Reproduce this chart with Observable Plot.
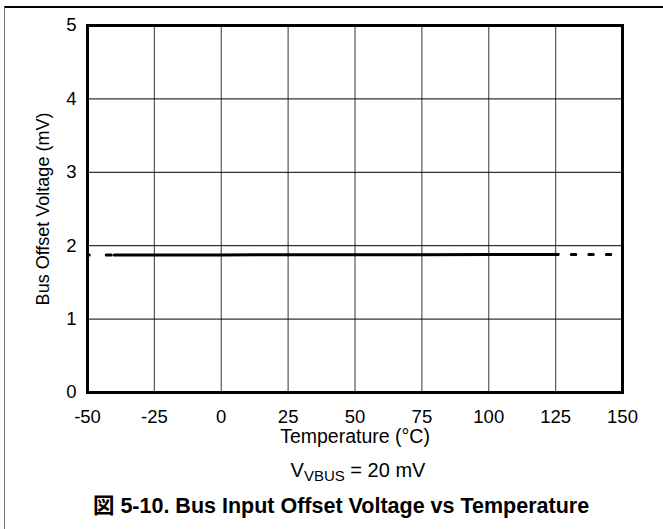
<!DOCTYPE html>
<html><head><meta charset="utf-8">
<script src="https://cdn.jsdelivr.net/npm/d3@7"></script>
<script src="https://cdn.jsdelivr.net/npm/@observablehq/plot@0.6"></script>
<style>
body{margin:0;background:#fff;font-family:"Liberation Sans",Arial,sans-serif;color:#000}
#page{position:relative;width:663px;height:529px;overflow:hidden;background:#fff}
#border{position:absolute;left:4px;top:6px;width:659px;height:523px;border-left:1.5px solid #777;border-top:2px solid #000;box-sizing:border-box}
#chart{position:absolute;left:0;top:0}
.txt{position:absolute;left:0;text-align:center;line-height:1;white-space:nowrap}
#sub{top:460px;width:716px;font-size:20px}
#sub sub{font-size:15px;vertical-align:-4px;line-height:0}
#cap{top:493px;width:682px;font-size:21.5px;font-weight:bold}
#cap .cjk{font-family:"Noto Sans CJK JP",sans-serif}
</style>
</head><body>
<div id="page">
  <div id="border"></div>
  <div id="chart"></div>
  <div id="sub" class="txt">V<sub>VBUS</sub> = 20 mV</div>
  <div id="cap" class="txt"><span class="cjk">図</span> 5-10. Bus Input Offset Voltage vs Temperature</div>
</div>
<script>
const xTicks = [-50, -25, 0, 25, 50, 75, 100, 125, 150];
const yTicks = [0, 1, 2, 3, 4, 5];
const xLabel = "Temperature (°C)";
const yLabel = "Bus Offset Voltage (mV)";
// measured data
const temps = [-40, -25, 0, 25, 50, 75, 100, 126];
const offsets = [1.875, 1.875, 1.875, 1.876, 1.877, 1.878, 1.879, 1.88];
// extrapolated (dashed) extensions
const extLeftT = [-40, -50];
const extLeftV = [1.875, 1.875];
const extRightT = [126, 150];
const extRightV = [1.88, 1.88];

const measured = temps.map((t, i) => ({t, v: offsets[i]}));
const extL = extLeftT.map((t, i) => ({t, v: extLeftV[i]}));
const extR = extRightT.map((t, i) => ({t, v: extRightV[i]}));

const chart = Plot.plot({
  width: 663, height: 450,
  marginLeft: 87, marginRight: 41, marginTop: 25, marginBottom: 58,
  style: {fontFamily: "'Liberation Sans', Arial, sans-serif", fontSize: "18px", color: "#000", background: "transparent"},
  x: {domain: [-50, 150]},
  y: {domain: [0, 5]},
  marks: [
    Plot.gridX(xTicks.slice(1, -1), {stroke: "#555", strokeOpacity: 1, strokeWidth: 1.2}),
    Plot.gridY(yTicks.slice(1, -1), {stroke: "#000", strokeOpacity: 1, strokeWidth: 1}),
    Plot.axisX(xTicks, {tickSize: 0, tickPadding: 17, fontSize: 18.5, label: null, tickFormat: d => String(d)}),
    Plot.axisY(yTicks, {tickSize: 0, tickPadding: 11, fontSize: 18.5, label: null, tickFormat: d => String(d)}),
    Plot.line(measured, {x: "t", y: "v", stroke: "#000", strokeWidth: 3}),
    Plot.line(extL, {x: "t", y: "v", stroke: "#000", strokeWidth: 3, strokeDasharray: "5,17", strokeDashoffset: 19}),
    Plot.line(extR, {x: "t", y: "v", stroke: "#000", strokeWidth: 3, strokeDasharray: "4.5,13", strokeDashoffset: 4.5}),
    Plot.frame({stroke: "#000", strokeWidth: 3}),
    Plot.text([xLabel], {frameAnchor: "bottom", dy: 44, lineAnchor: "middle", textAnchor: "middle", fontSize: 19.5, text: d => d}),
    Plot.text([yLabel], {frameAnchor: "left", rotate: -90, dx: -44, textAnchor: "middle", lineAnchor: "middle", fontSize: 18, text: d => d})
  ]
});
document.getElementById("chart").appendChild(chart);
</script>
</body></html>
